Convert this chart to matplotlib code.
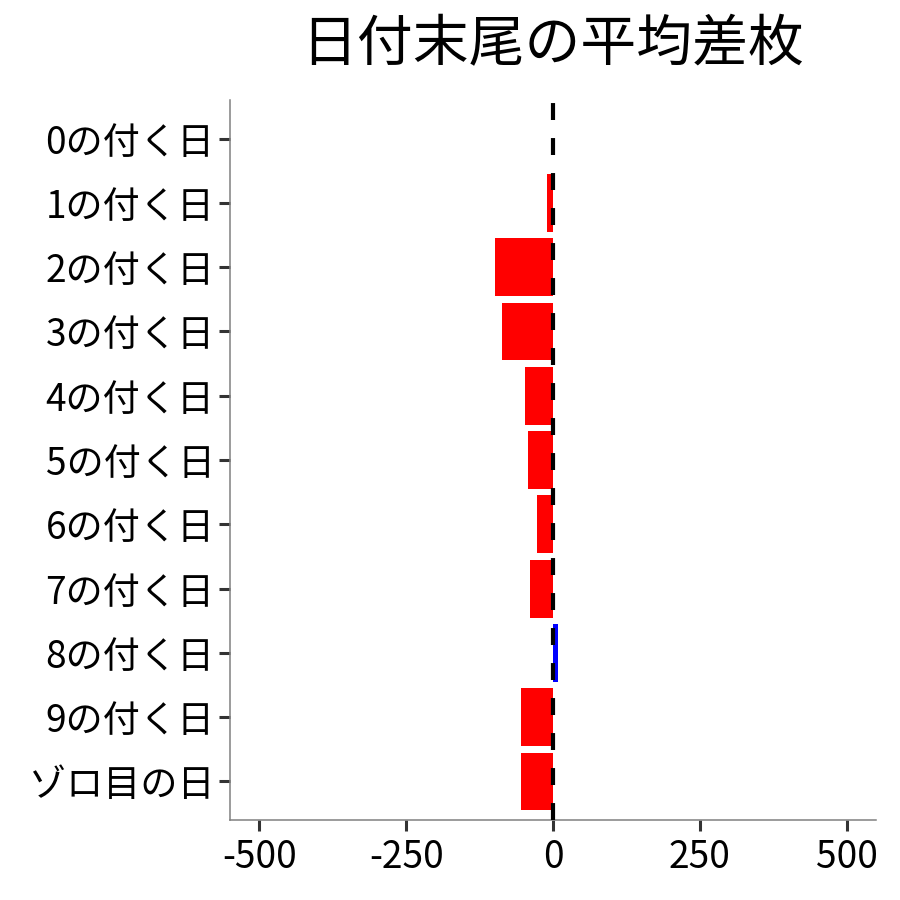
import matplotlib
matplotlib.use("Agg")
import matplotlib.pyplot as plt

plt.rcParams['font.family'] = ['Noto Sans CJK JP', 'DejaVu Sans']
plt.rcParams['lines.scale_dashes'] = False

categories = ["0の付く日", "1の付く日", "2の付く日", "3の付く日", "4の付く日",
              "5の付く日", "6の付く日", "7の付く日", "8の付く日", "9の付く日", "ゾロ目の日"]
values = [0, -11, -99, -86, -48, -43, -27, -40, 8, -55, -55]
xticks = [-500, -250, 0, 250, 500]
xticklabels = ["-500", "-250", "0", "250", "500"]
title = "日付末尾の平均差枚"

colors = ["red" if v < 0 else "blue" for v in values]

fig = plt.figure(figsize=(9, 9), dpi=100)
ax = fig.add_axes([230/900, 80/900, 646/900, 720/900])
ypos = list(range(len(categories)))
ax.barh(ypos, values, height=0.9, color=colors, zorder=2)
ax.axvline(0, color="black", linewidth=3, linestyle=(0, (12.2, 13)), zorder=3)

ax.set_xlim(-550, 550)
ax.set_ylim(len(categories) - 1 + 0.6, -0.6)
ax.set_yticks(ypos)
ax.set_yticklabels(categories)
ax.set_xticks(xticks)
ax.set_xticklabels(xticklabels)

for s in ["top", "right"]:
    ax.spines[s].set_visible(False)
for s in ["left", "bottom"]:
    ax.spines[s].set_color("#808080")
    ax.spines[s].set_linewidth(1.1)
ax.tick_params(axis="both", colors="#333333", length=8, width=2.2, labelsize=26.7,
               labelcolor="black")
ax.tick_params(axis="y", pad=3)
ax.tick_params(axis="x", pad=5)

fig.text((230 + 876) / 2 / 900, 1 - 45 / 900, title, ha="center", va="center",
         fontsize=40.2, color="black")

fig.savefig("out.png", dpi=100, facecolor="white")
